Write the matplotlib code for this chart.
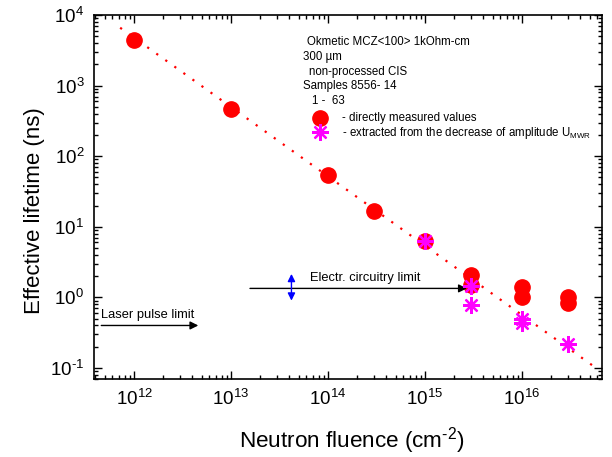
import matplotlib
matplotlib.use("Agg")
import matplotlib.pyplot as plt
from matplotlib.ticker import LogLocator, NullFormatter, FuncFormatter
import math

plt.rcParams['font.family'] = ['Liberation Sans', 'DejaVu Sans']
plt.rcParams['mathtext.fontset'] = 'custom'
plt.rcParams['mathtext.rm'] = 'Liberation Sans'
plt.rcParams['mathtext.it'] = 'Liberation Sans:italic'
plt.rcParams['axes.unicode_minus'] = False

# Data
fluence_meas = [1e12, 1e13, 1e14, 3e14, 1e15, 3e15, 3e15, 1e16, 1e16, 3e16, 3e16]
tau_meas = [4400, 470, 55, 17, 6.3, 2.1, 1.5, 1.4, 1.0, 1.0, 0.82]

fluence_extr = [1e15, 3e15, 3e15, 1e16, 1e16, 3e16]
tau_extr = [6.3, 1.45, 0.77, 0.50, 0.43, 0.22]

fit_x = [7.2e11, 5.8e16]
fit_y = [6600, 0.10]

laser_x = [4.6e11, 4.6e12]
laser_y = 0.40
circ_x = [1.57e13, 2.7e15]
circ_y = 1.34
blue_x = 4.2e13
blue_y = [2.15, 0.90]

fig = plt.figure(figsize=(6.12, 4.57), dpi=100)
W, H = 612, 457
ax = fig.add_axes([94 / W, 1 - 379 / H, (602 - 94) / W, (379 - 15) / H])
ax.set_xscale('log')
ax.set_yscale('log')
ax.set_xlim(3.87e11, 6.68e16)
ax.set_ylim(0.0698, 1e4)

ax.plot(fit_x, fit_y, linestyle=(0, (1, 4)), color='red', linewidth=1.6, zorder=2)
ax.plot(fluence_meas, tau_meas, 'o', color='red', markersize=11, zorder=3)
ax.plot(fluence_extr, tau_extr, linestyle='none', marker=(8, 2, 0), color='#FF00FF',
        markeredgecolor='#FF00FF', markersize=12, markeredgewidth=1.6, zorder=4)

ax.annotate('', xy=(laser_x[1], laser_y), xytext=(laser_x[0], laser_y),
            arrowprops=dict(arrowstyle='-|>', color='black', lw=1.0,
                            mutation_scale=12, shrinkA=0, shrinkB=0))
ax.text(laser_x[0], 0.56, 'Laser pulse limit', fontsize=9.3, ha='left', va='center')

ax.annotate('', xy=(circ_x[1], circ_y), xytext=(circ_x[0], circ_y),
            arrowprops=dict(arrowstyle='-|>', color='black', lw=1.0,
                            mutation_scale=12, shrinkA=0, shrinkB=0))
ax.text(2.4e14, 1.9, 'Electr. circuitry limit', fontsize=9.3, ha='center', va='center')

ax.annotate('', xy=(blue_x, blue_y[1]), xytext=(blue_x, blue_y[0]),
            arrowprops=dict(arrowstyle='<|-|>', color='blue', lw=1.0,
                            mutation_scale=11, shrinkA=0, shrinkB=0))

def pow_fmt(v, pos):
    e = int(round(math.log10(v)))
    return '10$^{\\text{%d}}$' % e

# Ticks
ax.xaxis.set_major_locator(LogLocator(base=10, numticks=20))
ax.xaxis.set_minor_locator(LogLocator(base=10, subs=range(2, 10), numticks=20))
ax.xaxis.set_minor_formatter(NullFormatter())
ax.xaxis.set_major_formatter(FuncFormatter(pow_fmt))
ax.yaxis.set_major_locator(LogLocator(base=10, numticks=20))
ax.yaxis.set_minor_locator(LogLocator(base=10, subs=range(2, 10), numticks=20))
ax.yaxis.set_minor_formatter(NullFormatter())
ax.yaxis.set_major_formatter(FuncFormatter(pow_fmt))
ax.tick_params(which='both', direction='in', top=True, right=True, width=1.0)
ax.tick_params(which='major', length=6, labelsize=13.5, pad=7)
ax.tick_params(which='minor', length=3)
for s in ax.spines.values():
    s.set_linewidth(1.2)

ax.set_xlabel('Neutron fluence (cm$^{\\text{-2}}$)', fontsize=16.2)
ax.set_ylabel('Effective lifetime (ns)', fontsize=16)
ax.xaxis.set_label_coords(0.508, -0.128)
ax.yaxis.set_label_coords(-0.097, 0.462)

# Legend block
def fx(px):
    return px / W
def fy(py):
    return 1 - py / H

fs = 8.3
fig.text(fx(307), fy(42), 'Okmetic MCZ<100> 1kOhm-cm', fontsize=fs, va='center')
fig.text(fx(303), fy(57), '300 µm', fontsize=fs, va='center')
fig.text(fx(309), fy(72), 'non-processed CIS', fontsize=fs, va='center')
fig.text(fx(303), fy(86), 'Samples 8556- 14', fontsize=fs, va='center')
fig.text(fx(312), fy(101), '1 -  63', fontsize=fs, va='center')
fig.text(fx(342), fy(118), '- directly measured values', fontsize=fs, va='center')
fig.text(fx(342), fy(133), '- extracted from the decrease of amplitude U$_{\\mathregular{MWR}}$',
         fontsize=fs, va='center')
fig.lines.append(plt.Line2D([fx(320)], [fy(118)], marker='o', color='red', markersize=11,
                            transform=fig.transFigure, figure=fig))
fig.lines.append(plt.Line2D([fx(320)], [fy(132)], marker=(8, 2, 0), color='#FF00FF',
                            markersize=12, markeredgewidth=1.6,
                            transform=fig.transFigure, figure=fig))

fig.savefig('out.png', dpi=100)
